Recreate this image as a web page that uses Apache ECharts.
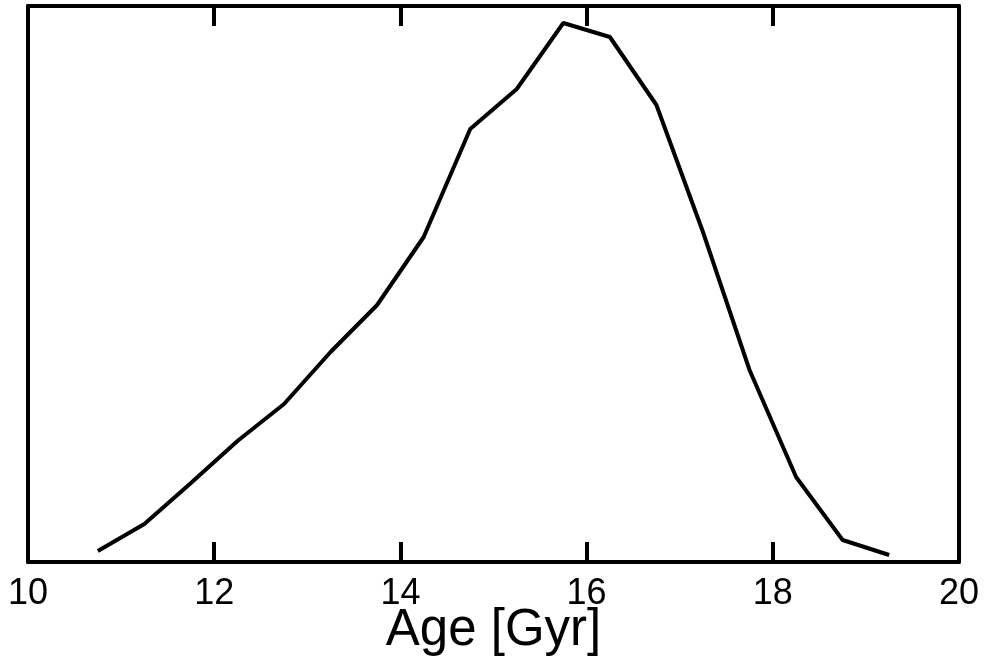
<!DOCTYPE html>
<html>
<head>
<meta charset="utf-8">
<script src="https://cdn.jsdelivr.net/npm/echarts@6/dist/echarts.min.js"></script>
<style>
  html, body { margin: 0; padding: 0; background: #fff; }
  #echart { width: 985px; height: 660px; }
</style>
</head>
<body>
<div id="echart"></div>
<script>
// age bins (Gyr) and relative counts
const ages = [10.75, 11.25, 11.75, 12.25, 12.75, 13.25, 13.75, 14.25, 14.75,
              15.25, 15.75, 16.25, 16.75, 17.25, 17.75, 18.25, 18.75, 19.25];
const counts = [11, 38, 79, 121, 158, 210, 257, 325, 433,
                473, 539, 525, 457, 330, 192, 85, 22, 7];
const xTicks = [10, 12, 14, 16, 18, 20];

const chart = echarts.init(document.getElementById('echart'));

const font = 'Liberation Sans, Arial, sans-serif';
const frame = { onZero: false, lineStyle: { color: '#000', width: 4 } };
const ticks = { inside: true, length: 20, lineStyle: { color: '#000', width: 4 } };

const option = {
    animation: false,
    grid: { left: 28, right: 26, top: 6, bottom: 98, outerBoundsMode: 'none', containLabel: false },
    xAxis: [{
        type: 'value',
        min: xTicks[0],
        max: xTicks[xTicks.length - 1],
        interval: 2,
        name: 'Age [Gyr]',
        nameLocation: 'middle',
        nameGap: 43,
        nameMoveOverlap: false,
        nameTextStyle: { fontFamily: font, fontSize: 51, color: '#000' },
        axisLine: frame,
        axisTick: ticks,
        axisLabel: { fontFamily: font, fontSize: 36, color: '#000', margin: 14 },
        splitLine: { show: false }
    }, {
        type: 'value',
        position: 'top',
        min: xTicks[0],
        max: xTicks[xTicks.length - 1],
        interval: 2,
        axisLine: frame,
        axisTick: ticks,
        axisLabel: { show: false },
        splitLine: { show: false }
    }],
    yAxis: [{
        type: 'value',
        min: 0,
        max: 556,
        axisLine: Object.assign({ show: true }, frame),
        axisTick: { show: false },
        axisLabel: { show: false },
        splitLine: { show: false }
    }, {
        type: 'value',
        position: 'right',
        min: 0,
        max: 556,
        axisLine: Object.assign({ show: true }, frame),
        axisTick: { show: false },
        axisLabel: { show: false },
        splitLine: { show: false }
    }],
    series: [{
        type: 'line',
        data: ages.map((a, i) => [a, counts[i]]),
        showSymbol: false,
        lineStyle: { color: '#000', width: 4 },
        clip: false
    }]
};

chart.setOption(option);
</script>
</body>
</html>
